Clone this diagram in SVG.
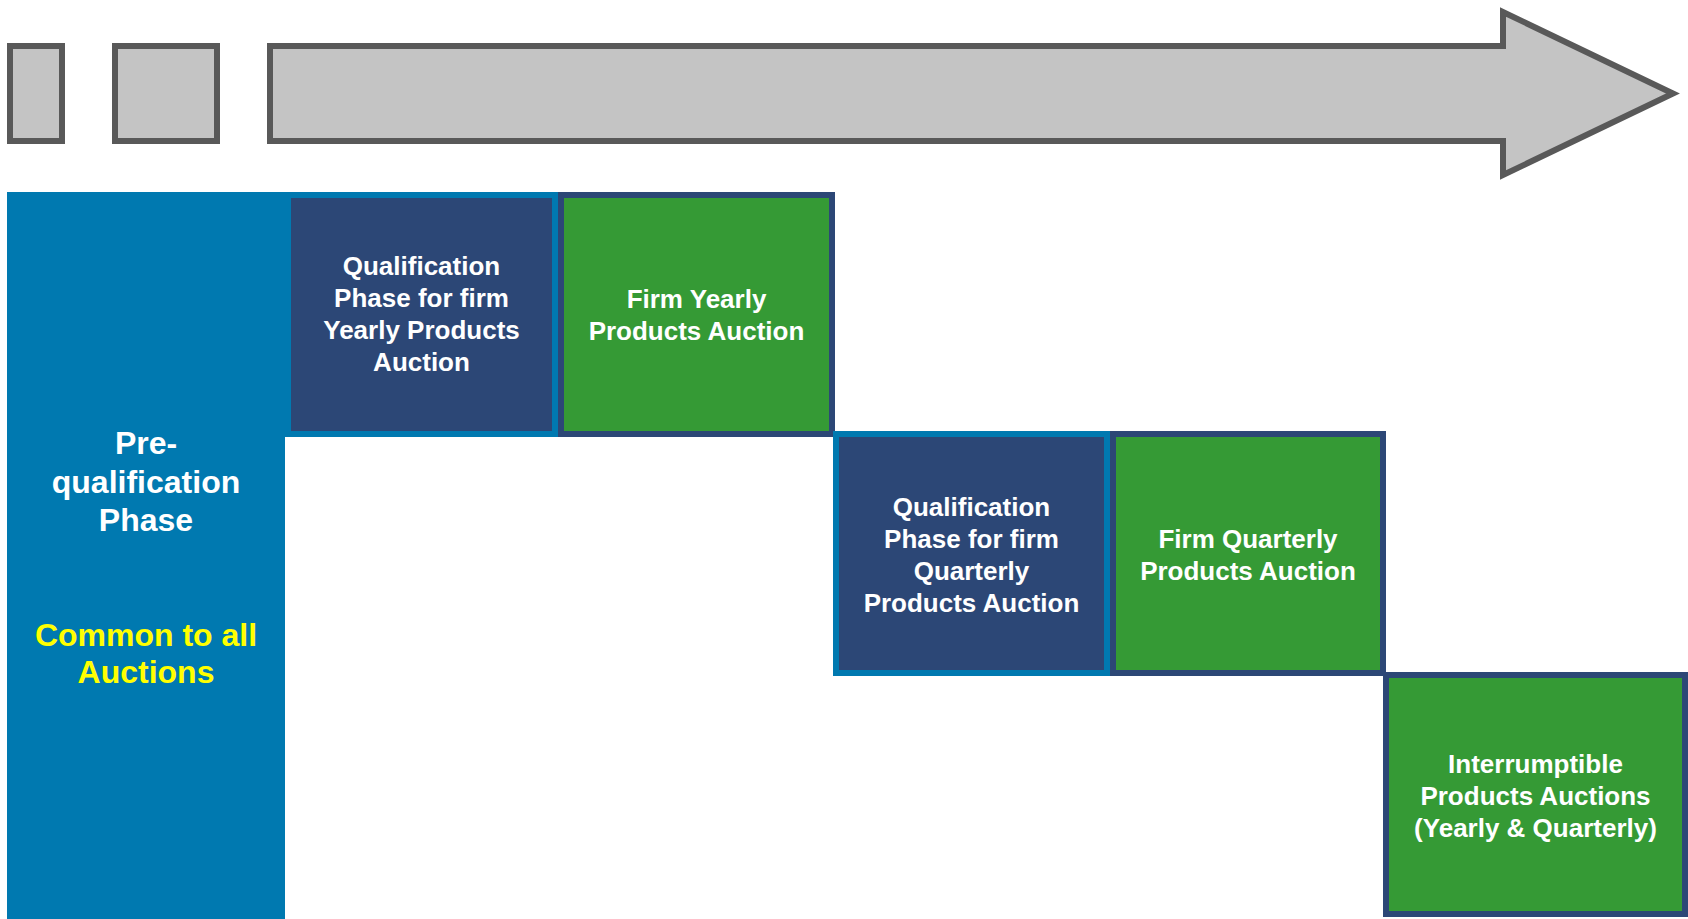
<svg xmlns="http://www.w3.org/2000/svg" width="1688" height="919" viewBox="0 0 1688 919">
  <style>
    .tl { fill: #c4c4c4; stroke: #595959; stroke-width: 6; }
    .qual { fill: #2c4776; stroke: #0079b0; stroke-width: 6; }
    .auct { fill: #359a35; stroke: #2c4776; stroke-width: 6; }
    .t { font-family: "Liberation Sans", Arial, sans-serif; font-weight: bold; fill: #ffffff; text-anchor: middle; font-size: 26px; }
    .big { font-size: 32px; }
    .yel { fill: #ffff00; }
  </style>
  <rect width="1688" height="919" fill="#ffffff"/>
  <g id="timeline">
    <rect class="tl" x="10" y="46" width="52" height="95"/>
    <rect class="tl" x="115" y="46" width="102" height="95"/>
    <polygon class="tl" points="270,46 1503,46 1503,12 1673,93.5 1503,175 1503,141 270,141"/>
  </g>
  <g id="connectors"></g>
  <g id="prequalification">
    <rect x="7" y="192" width="278" height="727" fill="#0079b0"/>
    <text class="t big" x="146" y="454">Pre-</text>
    <text class="t big" x="146" y="493">qualification</text>
    <text class="t big" x="146" y="531">Phase</text>
    <text class="t big yel" x="146" y="646">Common to all</text>
    <text class="t big yel" x="146" y="683">Auctions</text>
  </g>
  <g id="qual-yearly">
    <rect class="qual" x="288" y="195" width="267" height="239"/>
    <text class="t" x="421.5" y="275">Qualification</text>
    <text class="t" x="421.5" y="307">Phase for firm</text>
    <text class="t" x="421.5" y="339">Yearly Products</text>
    <text class="t" x="421.5" y="371">Auction</text>
  </g>
  <g id="firm-yearly">
    <rect class="auct" x="561" y="195" width="271" height="239"/>
    <text class="t" x="696.5" y="308">Firm Yearly</text>
    <text class="t" x="696.5" y="340">Products Auction</text>
  </g>
  <g id="qual-quarterly">
    <rect class="qual" x="836" y="434" width="271" height="239"/>
    <text class="t" x="971.5" y="516">Qualification</text>
    <text class="t" x="971.5" y="548">Phase for firm</text>
    <text class="t" x="971.5" y="580">Quarterly</text>
    <text class="t" x="971.5" y="612">Products Auction</text>
  </g>
  <g id="firm-quarterly">
    <rect class="auct" x="1113" y="434" width="270" height="239"/>
    <text class="t" x="1248" y="548">Firm Quarterly</text>
    <text class="t" x="1248" y="580">Products Auction</text>
  </g>
  <g id="interruptible">
    <rect class="auct" x="1386" y="675" width="299" height="239"/>
    <text class="t" x="1535.5" y="773">Interrumptible</text>
    <text class="t" x="1535.5" y="805">Products Auctions</text>
    <text class="t" x="1535.5" y="837">(Yearly &amp; Quarterly)</text>
  </g>
</svg>
